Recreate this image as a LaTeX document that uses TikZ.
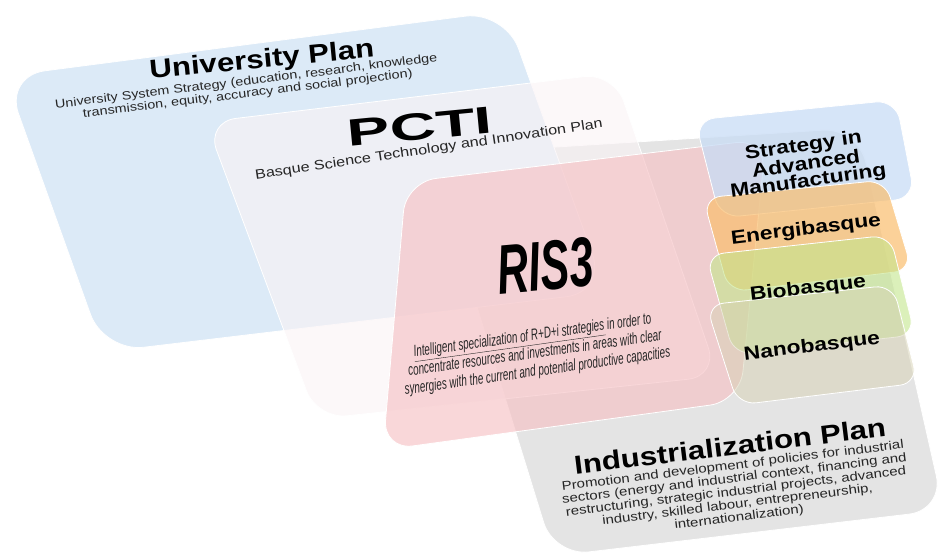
\documentclass[tikz,border=0pt]{standalone}
\usepackage{fontspec}
\setmainfont{Liberation Sans}
\newfontfamily\widesans{Liberation Sans}[FakeStretch=1.2]
\newfontfamily\narrowsans{Liberation Sans}[FakeStretch=0.62]
\definecolor{uniblue}{RGB}{220,234,247}
\definecolor{pcticream}{RGB}{250,243,245}
\definecolor{indgray}{RGB}{228,228,228}
\definecolor{risred}{RGB}{246,194,197}
\definecolor{stratblue}{RGB}{200,220,245}
\definecolor{energorange}{RGB}{250,190,110}
\definecolor{biogreen}{RGB}{195,230,140}
\definecolor{nanotan}{RGB}{215,210,180}
\tikzset{
  plate/.style={draw=white,line width=0.8pt,rounded corners=#1},
  heading/.style={inner sep=0pt,font={\widesans\bfseries\fontsize{26}{28}\selectfont}},
  boxlabel/.style={inner sep=0pt,align=center,font={\widesans\bfseries\fontsize{19}{17}\selectfont}},
  subtext/.style={inner sep=0pt,align=center,text=black!85,font={\widesans\fontsize{12.5}{13}\selectfont}},
}
\begin{document}
\begin{tikzpicture}[x=1pt,y=-1pt]
  \useasboundingbox (0,0) rectangle (941,554);
  \filldraw[plate=35,fill=indgray] (430,155) -- (858,128) -- (944,510) -- (554,556) -- cycle;
  \filldraw[plate=40,fill=uniblue] (5,76) -- (505,11) -- (606,292) -- (104,352) -- cycle;
  \filldraw[plate=30,fill=pcticream,fill opacity=0.6] (206,122) -- (614,73) -- (718,376) -- (317,419) -- cycle;
  \filldraw[plate=30,fill=risred,fill opacity=0.65] (406,182) -- (766,139) -- (740,401) -- (383,450) -- cycle;
  \filldraw[plate=20,fill=stratblue,fill opacity=0.75] (695,120) -- (896,100) -- (915,198) -- (720,218) -- cycle;
  \filldraw[plate=18,fill=energorange,fill opacity=0.7] (703,198) -- (885,180) -- (912,270) -- (729,292) -- cycle;
  \filldraw[plate=18,fill=biogreen,fill opacity=0.6] (706,255) -- (890,235) -- (915,335) -- (734,355) -- cycle;
  \filldraw[plate=18,fill=nanotan,fill opacity=0.5] (706,305) -- (893,285) -- (918,383) -- (738,405) -- cycle;

  \path node[heading,rotate=5.5] (unihead) at (262,61) {University Plan}
        node[subtext,rotate=7,font={\widesans\fontsize{12}{12.5}\selectfont}] (unitext) at (247,88)
          {University System Strategy (education, research, knowledge\\
           transmission, equity, accuracy and social projection)};
  \path node[heading,rotate=5.5,font={\widesans\bfseries\fontsize{38}{40}\selectfont}] (pctihead) at (420,127) {\scalebox{1.4}[1]{PCTI}}
        node[subtext,rotate=8.5,font={\widesans\fontsize{13.5}{14}\selectfont}] (pctitext) at (429,150)
          {Basque Science Technology and Innovation Plan};
  \path node[inner sep=0pt,rotate=5,font={\narrowsans\bfseries\itshape\fontsize{70}{70}\selectfont}] (rishead) at (545,266) {RIS3}
        node[subtext,rotate=8,font={\narrowsans\itshape\fontsize{16}{18}\selectfont}] (ristext) at (535,354)
          {\underline{Intelligent specialization of R+D+i strategies} in order to\\
           concentrate resources and investments in areas with clear\\
           synergies with the current and potential productive capacities};
  \path node[boxlabel,rotate=8] (strat) at (806,164) {Strategy in\\ Advanced\\ Manufacturing}
        node[boxlabel,rotate=7] (energi) at (806,230) {Energibasque}
        node[boxlabel,rotate=7] (bio) at (808,289) {Biobasque}
        node[boxlabel,rotate=7] (nano) at (812,347) {Nanobasque};
  \path node[heading,rotate=7] (indhead) at (730,446) {Industrialization Plan}
        node[subtext,rotate=7] (indtext) at (736,492)
          {Promotion and development of policies for industrial\\
           sectors (energy and industrial context, financing and\\
           restructuring, strategic industrial projects, advanced\\
           industry, skilled labour, entrepreneurship,\\
           internationalization)};
\end{tikzpicture}
\end{document}
